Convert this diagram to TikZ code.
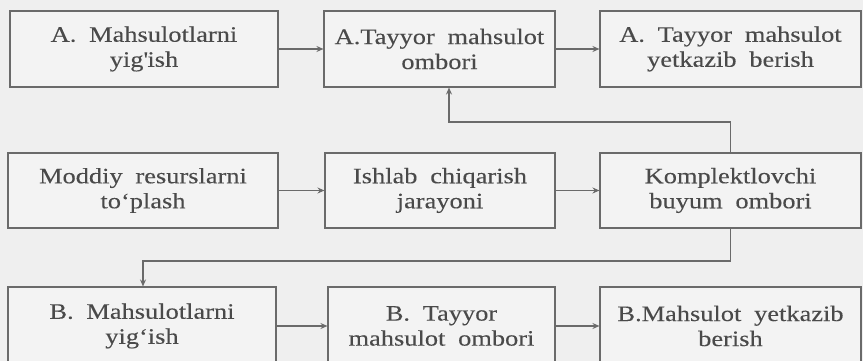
\documentclass[tikz,border=0pt]{standalone}
\usepackage{fontspec}
\setmainfont[FakeStretch=1.2,FakeBold=0.12]{Liberation Serif}
\usetikzlibrary{arrows.meta}
\definecolor{bg}{HTML}{EFEFEF}
\definecolor{boxfill}{HTML}{F3F3F3}
\definecolor{ln}{HTML}{6A6A6A}
\definecolor{txt}{HTML}{4A4A4A}
\newcommand\myblkfont{\fontsize{22}{25}\selectfont\spaceskip=0.58em plus 0.1em\relax}
\begin{document}
\begin{tikzpicture}[x=1pt,y=-1pt,
  blk/.style={draw=ln,line width=1.1pt,fill=boxfill,inner sep=0pt,
    text=txt,align=center,font=\myblkfont},
  conn/.style={draw=ln,line width=1.1pt,-{Stealth[length=7pt,width=6pt]}}]
\useasboundingbox[fill=bg] (0,0) rectangle (863,361);
% row 1
\node[blk,minimum width=268pt,minimum height=76pt] (a1) at (144,49) {A. Mahsulotlarni\\yig\textquotesingle ish};
\node[blk,minimum width=231pt,minimum height=76pt] (a2) at (439.5,49) {A.Tayyor mahsulot\\ombori};
\node[blk,minimum width=261pt,minimum height=76pt] (a3) at (730.5,49) {A. Tayyor mahsulot\\yetkazib berish};
% row 2
\node[blk,minimum width=270pt,minimum height=75pt] (b1) at (143,190.5) {Moddiy resurslarni\\to‘plash};
\node[blk,minimum width=230pt,minimum height=75pt] (b2) at (440,190.5) {Ishlab chiqarish\\jarayoni};
\node[blk,minimum width=261pt,minimum height=75pt] (b3) at (730.5,190.5) {Komplektlovchi\\buyum ombori};
% row 3
\node[blk,minimum width=268pt,minimum height=78pt] (c1) at (142,326) {B. Mahsulotlarni\\yig‘ish};
\node[blk,minimum width=227pt,minimum height=78pt] (c2) at (441.5,326) {B. Tayyor\\mahsulot ombori};
\node[blk,minimum width=261pt,minimum height=78pt] (c3) at (730.5,326) {B.Mahsulot yetkazib\\berish};
% horizontal arrows
\draw[conn] (a1.east) -- (a2.west);
\draw[conn] (a2.east) -- (a3.west);
\draw[conn] (b1.east) -- (b2.west);
\draw[conn] (b2.east) -- (b3.west);
\draw[conn] (c1.east) -- (c2.west);
\draw[conn] (c2.east) -- (c3.west);
% feedback connectors
\coordinate (k1) at (730.5,122);
\coordinate (k2) at (449,122);
\draw[conn] (b3.north) -- (k1) -- (k2) -- (a2.south -| k2);
\coordinate (m1) at (730.5,261);
\coordinate (m2) at (143,261);
\draw[conn] (b3.south) -- (m1) -- (m2) -- (c1.north -| m2);
\end{tikzpicture}
\end{document}
